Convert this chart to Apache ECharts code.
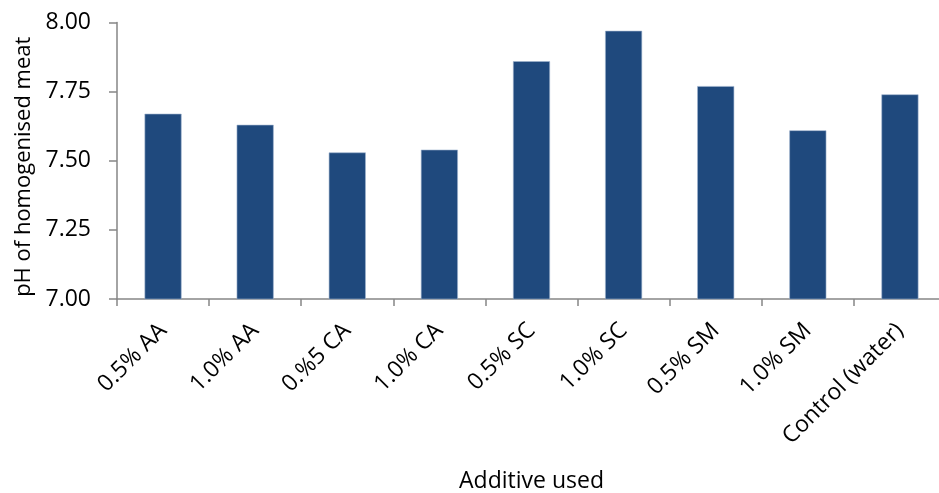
<!DOCTYPE html>
<html>
<head>
<meta charset="utf-8">
<script src="https://cdn.jsdelivr.net/npm/echarts@6/dist/echarts.min.js"></script>
<style>
  html, body { margin: 0; padding: 0; background: #fff; }
  #chart { width: 939px; height: 493px; }
</style>
</head>
<body>
<div id="chart"></div>
<script>
// Additives tested and the resulting pH of the homogenised meat
const categories = ['0.5% AA', '1.0% AA', '0.%5 CA', '1.0% CA', '0.5% SC', '1.0% SC', '0.5% SM', '1.0% SM', 'Control (water)'];
const phValues = [7.67, 7.63, 7.53, 7.54, 7.86, 7.97, 7.77, 7.61, 7.74];
const yTicks = { min: 7.0, max: 8.0, interval: 0.25 };

const FONT = '"Open Sans", "Liberation Sans", sans-serif';
const AXIS_GREY = '#868686';

const chart = echarts.init(document.getElementById('chart'), null, { renderer: 'canvas' });

chart.setOption({
  animation: false,
  backgroundColor: '#ffffff',
  grid: {
    left: 117, top: 22.5, width: 829, height: 276.5,
    containLabel: false,
    outerBoundsMode: 'none'
  },
  xAxis: {
    type: 'category',
    data: categories,
    name: 'Additive used',
    nameLocation: 'middle',
    nameGap: 171,
    nameTextStyle: { fontFamily: FONT, fontSize: 23, color: '#000' },
    axisLine: { lineStyle: { color: AXIS_GREY, width: 1.5 } },
    axisTick: { show: true, length: 7, alignWithLabel: false, lineStyle: { color: AXIS_GREY, width: 1.5 } },
    axisLabel: {
      rotate: 45,
      interval: 0,
      margin: 28,
      fontFamily: FONT,
      fontSize: 23,
      color: '#000'
    }
  },
  yAxis: {
    type: 'value',
    min: yTicks.min,
    max: yTicks.max,
    interval: yTicks.interval,
    name: 'pH of homogenised meat',
    nameLocation: 'middle',
    nameGap: 80,
    nameRotate: 90,
    nameTextStyle: { fontFamily: FONT, fontSize: 22, color: '#000', padding: [0, 12, 0, 0] },
    splitLine: { show: false },
    axisLine: { show: true, lineStyle: { color: AXIS_GREY, width: 1.5 } },
    axisTick: { show: true, length: 8, lineStyle: { color: AXIS_GREY, width: 1.5 } },
    axisLabel: {
      margin: 26,
      fontFamily: FONT,
      fontSize: 23,
      color: '#000',
      formatter: v => v.toFixed(2)
    }
  },
  series: [{
    type: 'bar',
    data: phValues,
    barWidth: 37,
    itemStyle: { color: '#1F497D', borderColor: '#9fb3cf', borderWidth: 0.6 }
  }]
});
</script>
</body>
</html>
